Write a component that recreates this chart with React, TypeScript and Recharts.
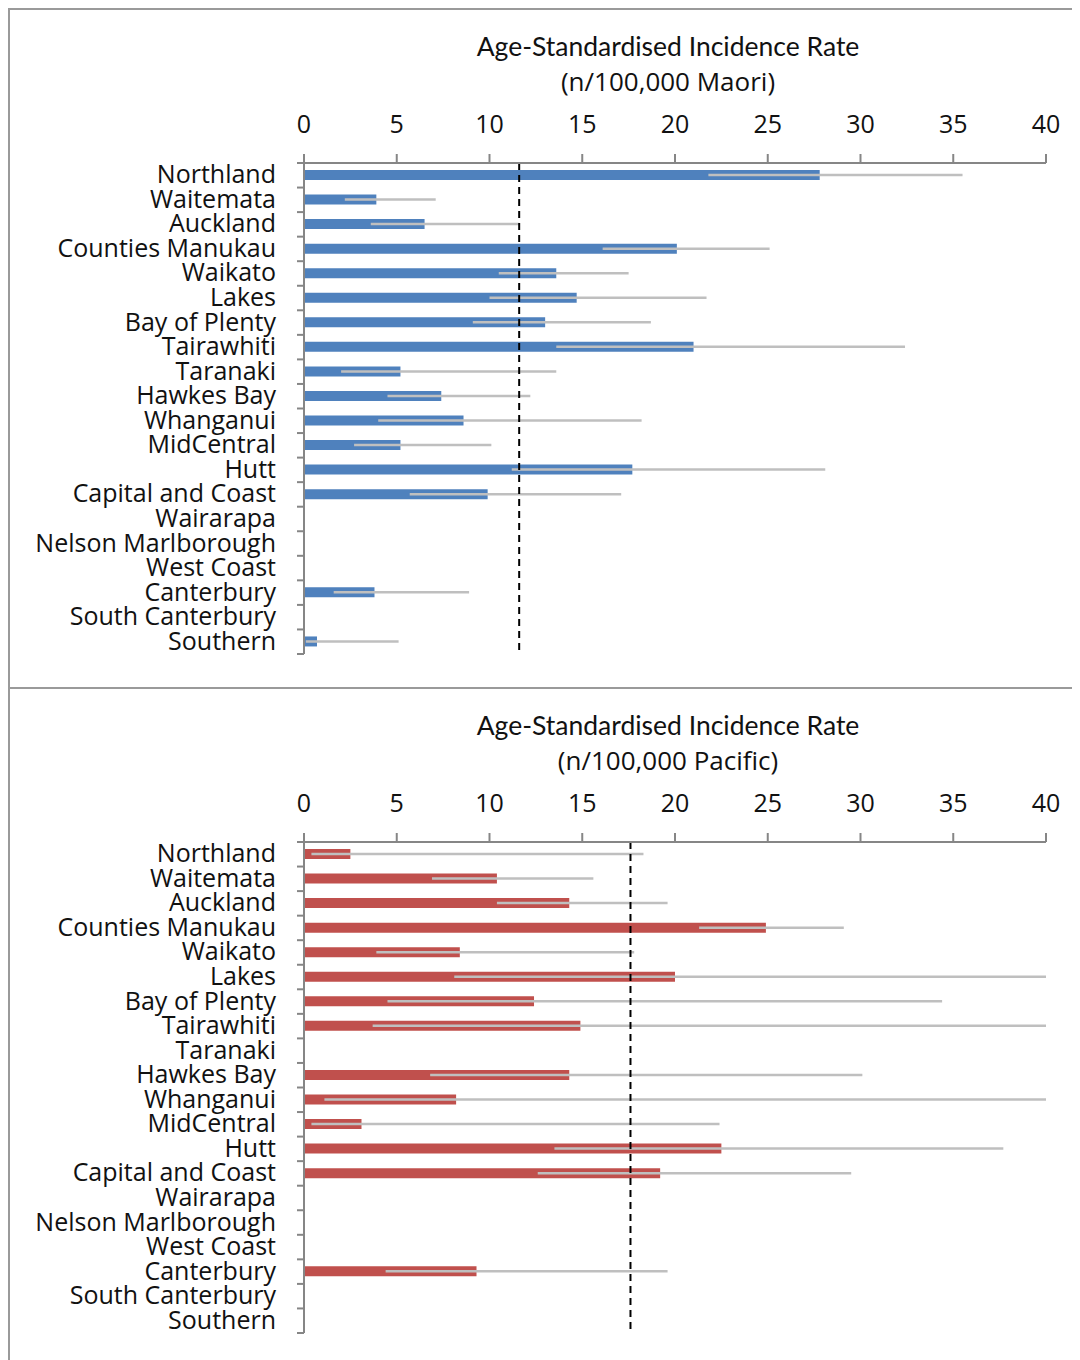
import React from "react";
import {
  BarChart,
  Bar,
  XAxis,
  YAxis,
  ErrorBar,
  ReferenceLine,
} from "recharts";

const regions = [
  "Northland",
  "Waitemata",
  "Auckland",
  "Counties Manukau",
  "Waikato",
  "Lakes",
  "Bay of Plenty",
  "Tairawhiti",
  "Taranaki",
  "Hawkes Bay",
  "Whanganui",
  "MidCentral",
  "Hutt",
  "Capital and Coast",
  "Wairarapa",
  "Nelson Marlborough",
  "West Coast",
  "Canterbury",
  "South Canterbury",
  "Southern",
];

const xTicks = [0, 5, 10, 15, 20, 25, 30, 35, 40];

// Maori rates with 95% CI
const maoriRate = [27.8, 3.9, 6.5, 20.1, 13.6, 14.7, 13.0, 21.0, 5.2, 7.4, 8.6, 5.2, 17.7, 9.9, null, null, null, 3.8, null, 0.7];
const maoriLow = [21.8, 2.2, 3.6, 16.1, 10.5, 10.0, 9.1, 13.6, 2.0, 4.5, 4.0, 2.7, 11.2, 5.7, null, null, null, 1.6, null, 0.1];
const maoriHigh = [35.5, 7.1, 11.6, 25.1, 17.5, 21.7, 18.7, 32.4, 13.6, 12.2, 18.2, 10.1, 28.1, 17.1, null, null, null, 8.9, null, 5.1];
const maoriNational = 11.6;

// Pacific rates with 95% CI (upper limits past 40 are cut at the axis)
const pacificRate = [2.5, 10.4, 14.3, 24.9, 8.4, 20.0, 12.4, 14.9, null, 14.3, 8.2, 3.1, 22.5, 19.2, null, null, null, 9.3, null, null];
const pacificLow = [0.4, 6.9, 10.4, 21.3, 3.9, 8.1, 4.5, 3.7, null, 6.8, 1.1, 0.4, 13.5, 12.6, null, null, null, 4.4, null, null];
const pacificHigh = [18.3, 15.6, 19.6, 29.1, 17.8, 40, 34.4, 40, null, 30.1, 40, 22.4, 37.7, 29.5, null, null, null, 19.6, null, null];
const pacificNational = 17.6;

const AXIS = "#868686";
const LABEL_FONT = "'Open Sans', sans-serif";
const TITLE_FONT = "Lato, sans-serif";

type Row = { name: string; rate: number | null; err: number[] | null };

const buildRows = (
  rate: (number | null)[],
  low: (number | null)[],
  high: (number | null)[]
): Row[] =>
  regions.map((name, i) => {
    const v = rate[i];
    const lo = low[i];
    const hi = high[i];
    return {
      name,
      rate: v,
      err: v == null || lo == null || hi == null ? null : [v - lo, hi - v],
    };
  });

const TICK_SIZE = 6;
const TICK_MARGIN = 22;

const CategoryTick = (props: any) => {
  const { x, y, payload, index } = props;
  const half = payload && payload.offset ? payload.offset : 12.3;
  const axisX = x + TICK_SIZE + TICK_MARGIN;
  return (
    <g>
      <line x1={axisX - 7} x2={axisX} y1={y - half} y2={y - half} stroke={AXIS} strokeWidth={2} />
      {index === regions.length - 1 && (
        <line x1={axisX - 7} x2={axisX} y1={y + half} y2={y + half} stroke={AXIS} strokeWidth={2} />
      )}
      <text
        x={x}
        y={y}
        dy={8}
        textAnchor="end"
        fontFamily={LABEL_FONT}
        fontSize={25}
        fill="#111"
      >
        {payload.value}
      </text>
    </g>
  );
};

type PanelProps = {
  subtitle: string;
  rows: Row[];
  national: number;
  color: string;
  height: number;
};

const Panel = ({ subtitle, rows, national, color, height }: PanelProps) => {
  return (
    <div
      style={{
        position: "relative",
        width: 1070,
        height,
        borderTop: "2px solid #9a9a9a",
        borderLeft: "2px solid #9a9a9a",
      }}
    >
      <div
        style={{
          position: "absolute",
          left: 358,
          width: 600,
          top: 19,
          textAlign: "center",
          fontFamily: TITLE_FONT,
          fontSize: 26.5,
          lineHeight: "34px",
          color: "#111",
        }}
      >
        Age-Standardised Incidence Rate
      </div>
      <div
        style={{
          position: "absolute",
          left: 358,
          width: 600,
          top: 54,
          textAlign: "center",
          fontFamily: LABEL_FONT,
          fontSize: 26,
          lineHeight: "34px",
          color: "#111",
        }}
      >
        {subtitle}
      </div>
      <BarChart
        width={1070}
        height={height}
        data={rows}
        layout="vertical"
        barSize={10}
        margin={{ top: 93, right: 34, bottom: height - 644, left: 34 }}
      >
        <XAxis
          type="number"
          orientation="top"
          domain={[0, 40]}
          ticks={xTicks}
          allowDataOverflow
          height={60}
          stroke={AXIS}
          strokeWidth={2}
          tickSize={9}
          tickMargin={21}
          tick={{ fill: "#111", fontSize: 25, fontFamily: LABEL_FONT }}
        />
        <YAxis
          type="category"
          dataKey="name"
          width={260}
          interval={0}
          stroke={AXIS}
          strokeWidth={2}
          tickLine={false}
          tickSize={TICK_SIZE}
          tickMargin={TICK_MARGIN}
          tick={<CategoryTick />}
        />
        <Bar dataKey="rate" fill={color} isAnimationActive={false}>
          <ErrorBar
            dataKey="err"
            direction="x"
            width={0}
            stroke="#bfbfbf"
            strokeWidth={2.5}
            isAnimationActive={false}
          />
        </Bar>
        <ReferenceLine
          x={national}
          stroke="#000"
          strokeWidth={2}
          strokeDasharray="7 5"
        />
      </BarChart>
    </div>
  );
};

const App = () => {
  return (
    <div style={{ width: 1072 }}>
      <Panel
        subtitle="(n/100,000 Maori)"
        rows={buildRows(maoriRate, maoriLow, maoriHigh)}
        national={maoriNational}
        color="#4f81bd"
        height={677}
      />
      <Panel
        subtitle="(n/100,000 Pacific)"
        rows={buildRows(pacificRate, pacificLow, pacificHigh)}
        national={pacificNational}
        color="#c0504d"
        height={671}
      />
    </div>
  );
};

export default App;
